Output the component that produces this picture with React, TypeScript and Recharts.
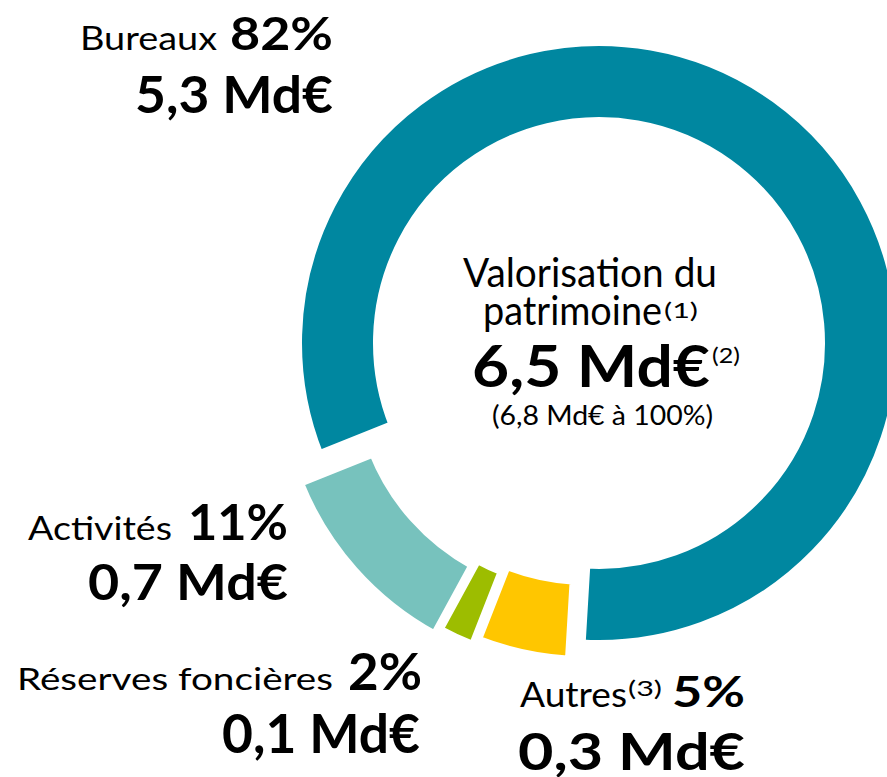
import { PieChart, Pie, Cell } from "recharts";

// Patrimony split (percent of 6,5 Md€)
const categories = ["Bureaux", "Activités", "Réserves foncières", "Autres"];
const shares = [82, 11, 2, 5];
const amounts = ["5,3 Md€", "0,7 Md€", "0,1 Md€", "0,3 Md€"];
const colors = ["#0087A0", "#77C2BD", "#9DBD00", "#FFC600"];
// how far each slice is pulled out (px), all in the same direction
const pull = [0, 34, 27, 20];

const data = categories.map((name, i) => ({ name, value: shares[i] }));

const W = 887;
const H = 777;
const CX = 594;
const CY = 338;
const GAP = 9; // white border between slices
const INNER = 226 - GAP / 2;
const OUTER = 297 + GAP / 2;
const START = -93.4;
const END = 266.6;

// middle angle of the pulled-out slices, same split as recharts
function pullAngle() {
  const total = shares.reduce((a, b) => a + b, 0);
  let a = START;
  let lo = Infinity;
  let hi = -Infinity;
  shares.forEach((v, i) => {
    const e = a + (v / total) * (END - START);
    if (pull[i] > 0) {
      lo = Math.min(lo, a);
      hi = Math.max(hi, e);
    }
    a = e;
  });
  return (lo + hi) / 2;
}

const FONT = "Lato, 'Open Sans', sans-serif";

function T({
  x,
  y,
  w,
  size,
  bold,
  children,
}: {
  x: number;
  y: number;
  w: number;
  size: number;
  bold?: boolean;
  children: string;
}) {
  return (
    <text
      x={x}
      y={y}
      fontSize={size}
      fontWeight={bold ? 700 : 400}
      textLength={w}
      lengthAdjust="spacingAndGlyphs"
      fill="#000"
    >
      {children}
    </text>
  );
}

export default function App() {
  const rad = (pullAngle() * Math.PI) / 180;
  return (
    <div style={{ position: "absolute", left: 0, top: 0, width: W, height: H, background: "#fff" }}>
      <PieChart width={W} height={H}>
        {data.map((d, k) => (
          <Pie
            key={d.name}
            data={data}
            dataKey="value"
            nameKey="name"
            cx={CX + pull[k] * Math.cos(rad)}
            cy={CY - pull[k] * Math.sin(rad)}
            innerRadius={INNER}
            outerRadius={OUTER}
            startAngle={START}
            endAngle={END}
            paddingAngle={0}
            isAnimationActive={false}
          >
            {data.map((e, i) => (
              <Cell
                key={e.name}
                fill={i === k ? colors[i] : "none"}
                stroke={i === k ? "#fff" : "none"}
                strokeWidth={GAP}
              />
            ))}
          </Pie>
        ))}
      </PieChart>
      <svg
        width={W}
        height={H}
        style={{ position: "absolute", left: 0, top: 0, pointerEvents: "none" }}
        fontFamily={FONT}
      >
        {/* center */}
        <T x={463} y={287} w={254} size={40}>Valorisation du</T>
        <T x={483} y={325} w={179} size={40}>patrimoine</T>
        <T x={664} y={318} w={34} size={21}>(1)</T>
        <T x={472} y={387} w={238} size={57} bold>6,5 Md€</T>
        <T x={712} y={363} w={28} size={21}>(2)</T>
        <T x={492} y={425} w={221} size={26}>(6,8 Md€ à 100%)</T>

        {/* Bureaux */}
        <T x={80} y={50} w={137} size={32}>{categories[0]}</T>
        <T x={230} y={50} w={103} size={46} bold>{`${shares[0]}%`}</T>
        <T x={135} y={113} w={198} size={52} bold>{amounts[0]}</T>

        {/* Activités */}
        <T x={28} y={540} w={144} size={32}>{categories[1]}</T>
        <T x={188} y={540} w={100} size={50} bold>{`${shares[1]}%`}</T>
        <T x={88} y={600} w={200} size={50} bold>{amounts[1]}</T>

        {/* Réserves foncières */}
        <T x={17} y={690} w={316} size={31}>{categories[2]}</T>
        <T x={348} y={690} w={74} size={51} bold>{`${shares[2]}%`}</T>
        <T x={222} y={753} w={198} size={53} bold>{amounts[2]}</T>

        {/* Autres */}
        <T x={520} y={707} w={107} size={34}>{categories[3]}</T>
        <T x={628} y={696} w={34} size={21}>(3)</T>
        <T x={672} y={707} w={73} size={42} bold>{`${shares[3]}%`}</T>
        <T x={518} y={770} w={227} size={52} bold>{amounts[3]}</T>
      </svg>
    </div>
  );
}
